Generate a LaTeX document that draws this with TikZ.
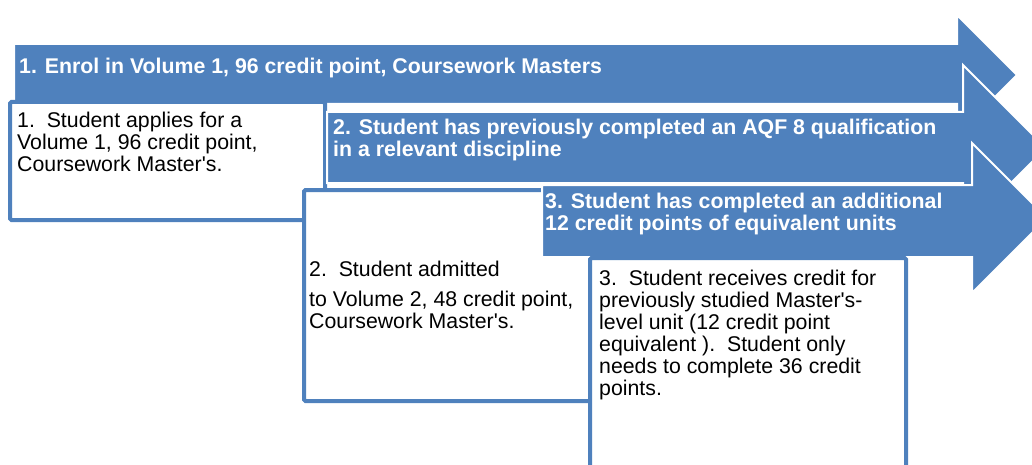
\documentclass[tikz,border=0pt]{standalone}
\usepackage{fontspec}
\setmainfont{Liberation Sans}
\usetikzlibrary{positioning}
\definecolor{stepblue}{RGB}{79,129,189}

\begin{document}
\begin{tikzpicture}[x=1pt, y=-1pt,
        band/.style={fill=stepblue, draw=white, line width=2pt},
        card/.style={fill=white, draw=stepblue, line width=4pt, rounded corners=1.5pt},
        bandtext/.style={anchor=north west, inner sep=0pt, align=left, text=white, font=\bfseries\fontsize{21.3}{22}\selectfont},
        cardtext/.style={anchor=north west, inner sep=0pt, align=left, font=\fontsize{21.3}{22}\selectfont}
    ]
        \useasboundingbox (0,0) rectangle (1032,465);
        \clip (0,0) rectangle (1032,465);

        % stage 1
        \draw[band] (14,44) -- (957,44) -- (957,15) -- (1017,75) -- (957,135) -- (957,104) -- (14,104) -- cycle;
        \node[bandtext] (enrol) at (19,58) {1. Enrol in Volume 1, 96 credit point, Coursework Masters};
        \draw[card] (10,102) rectangle (325,220);
        \node[cardtext] (apply) at (17,112) {1.\ \ Student applies for a\\Volume 1, 96 credit point,\\Coursework Master\textquotesingle s.};

        % stage 2
        \draw[band] (327,112) -- (963,112) -- (963,65) -- (1046,148) -- (963,231) -- (963,183) -- (327,183) -- cycle;
        \node[bandtext] (prior) at (333,119) {2. Student has previously completed an AQF 8 qualification\\in a relevant discipline};
        \draw[card] (304,190) rectangle (592,401);
        \node[cardtext] (admit) at (309,260.5) {2.\ \ Student admitted\\[8pt]to Volume 2, 48 credit point,\\Coursework Master\textquotesingle s.};

        % stage 3
        \draw[band] (542,185) -- (972,185) -- (972,143) -- (1047,218) -- (972,293) -- (972,257) -- (542,257) -- cycle;
        \node[bandtext] (extra) at (545,192.5) {3. Student has completed an additional\\12 credit points of equivalent units};
        \draw[card] (590,258) rectangle (906,480);
        \node[cardtext] (credit) at (599,270) {3.\ \ Student receives credit for\\previously studied Master\textquotesingle s-\\level unit (12 credit point\\equivalent ).\ \ Student only\\needs to complete 36 credit\\points.};
    \end{tikzpicture}
\end{document}
